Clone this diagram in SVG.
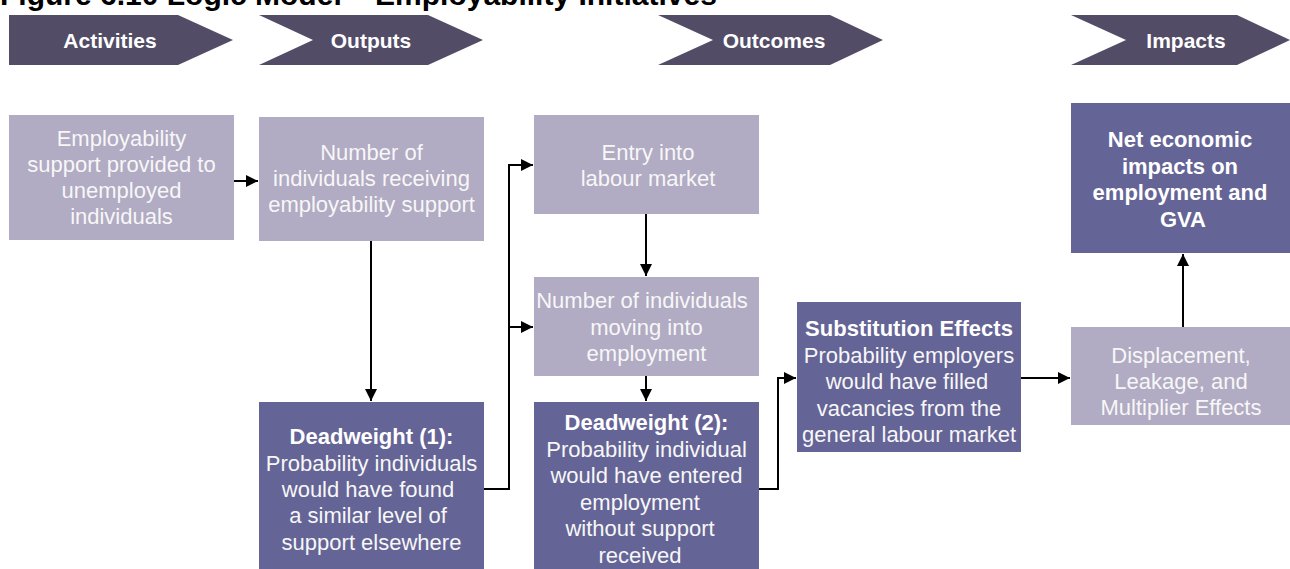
<svg xmlns="http://www.w3.org/2000/svg" width="1290" height="569" viewBox="0 0 1290 569">
<style>
.t{font-family:"Liberation Sans",Arial,sans-serif;font-size:22px;fill:#f7f7f7;text-anchor:middle}
.b{font-weight:bold;fill:#ffffff}
.hd{font-family:"Liberation Sans",Arial,sans-serif;font-size:21px;font-weight:bold;fill:#ffffff;text-anchor:middle}
.ttl{font-family:"Liberation Sans",Arial,sans-serif;font-size:30px;font-weight:bold;fill:#000000}
.chev{fill:#524c66}
.light{fill:#b1abc3}
.dark{fill:#656496}
.conn{fill:none;stroke:#000;stroke-width:2}
</style>
<defs>
<marker id="ah" markerUnits="userSpaceOnUse" markerWidth="12" markerHeight="12" viewBox="0 0 12 12" refX="12" refY="6" orient="auto">
<path d="M0,0 L12,6 L0,12 Z" fill="#000"/>
</marker>
</defs>
<rect width="1290" height="569" fill="#ffffff"/>
<text class="ttl" x="0" y="5">Figure 6.10  Logic Model – Employability Initiatives</text>

<g id="stage-activities">
<polygon class="chev" points="9,15 178,15 233,40 178,65 9,65"/>
<text class="hd" x="110" y="48">Activities</text>
</g>
<g id="stage-outputs">
<polygon class="chev" points="259,15 428,15 483,40 428,65 259,65 313,40"/>
<text class="hd" x="371" y="48">Outputs</text>
</g>
<g id="stage-outcomes">
<polygon class="chev" points="658,15 830,15 883,40 830,65 658,65 713,40"/>
<text class="hd" x="774" y="48">Outcomes</text>
</g>
<g id="stage-impacts">
<polygon class="chev" points="1071,15 1237,15 1290,40 1237,65 1071,65 1126,40"/>
<text class="hd" x="1186" y="48">Impacts</text>
</g>

<g id="n-support">
<rect class="light" x="9" y="115" width="225" height="125"/>
<text class="t" x="121.5" y="146">Employability</text>
<text class="t" x="121.5" y="172">support provided to</text>
<text class="t" x="121.5" y="198">unemployed</text>
<text class="t" x="121.5" y="224">individuals</text>
</g>
<g id="n-receiving">
<rect class="light" x="259" y="117" width="225" height="124"/>
<text class="t" x="371.5" y="160">Number of</text>
<text class="t" x="371.5" y="186">individuals receiving</text>
<text class="t" x="371.5" y="212">employability support</text>
</g>
<g id="n-entry">
<rect class="light" x="534" y="115" width="225" height="99"/>
<text class="t" x="648" y="160">Entry into</text>
<text class="t" x="648" y="186">labour market</text>
</g>
<g id="n-moving">
<rect class="light" x="534" y="277" width="225" height="99"/>
<text class="t" x="642" y="308">Number of individuals</text>
<text class="t" x="646.5" y="335">moving into</text>
<text class="t" x="646.5" y="361">employment</text>
</g>
<g id="n-deadweight1">
<rect class="dark" x="259" y="402" width="225" height="167"/>
<text class="t b" x="371.5" y="444">Deadweight (1):</text>
<text class="t" x="371.5" y="471">Probability individuals</text>
<text class="t" x="368" y="497">would have found</text>
<text class="t" x="368" y="523">a similar level of</text>
<text class="t" x="371.5" y="550">support elsewhere</text>
</g>
<g id="n-deadweight2">
<rect class="dark" x="534" y="402" width="225" height="167"/>
<text class="t b" x="646.5" y="430">Deadweight (2):</text>
<text class="t" x="646.5" y="457">Probability individual</text>
<text class="t" x="646.5" y="483">would have entered</text>
<text class="t" x="640" y="510">employment</text>
<text class="t" x="640" y="536">without support</text>
<text class="t" x="640" y="563">received</text>
</g>
<g id="n-substitution">
<rect class="dark" x="797" y="302" width="224" height="150"/>
<text class="t b" x="909" y="336">Substitution Effects</text>
<text class="t" x="909" y="363">Probability employers</text>
<text class="t" x="907" y="389">would have filled</text>
<text class="t" x="909" y="416">vacancies from the</text>
<text class="t" x="909" y="442">general labour market</text>
</g>
<g id="n-displacement">
<rect class="light" x="1071" y="327" width="219" height="98"/>
<text class="t" x="1181" y="363">Displacement,</text>
<text class="t" x="1181" y="389">Leakage, and</text>
<text class="t" x="1181" y="415">Multiplier Effects</text>
</g>
<g id="n-net">
<rect class="dark" x="1071" y="103" width="219" height="150"/>
<text class="t b" x="1180" y="147">Net economic</text>
<text class="t b" x="1180" y="174">impacts on</text>
<text class="t b" x="1180" y="200">employment and</text>
<text class="t b" x="1183" y="227">GVA</text>
</g>

<g id="connectors">
<path class="conn" d="M234,181 H258" marker-end="url(#ah)"/>
<path class="conn" d="M371,241 V401" marker-end="url(#ah)"/>
<path class="conn" d="M484,489 H509 V165 H533" marker-end="url(#ah)"/>
<path class="conn" d="M509,327 H533" marker-end="url(#ah)"/>
<path class="conn" d="M646,214 V276" marker-end="url(#ah)"/>
<path class="conn" d="M646,376 V401" marker-end="url(#ah)"/>
<path class="conn" d="M759,489 H778 V378 H796" marker-end="url(#ah)"/>
<path class="conn" d="M1021,378 H1070" marker-end="url(#ah)"/>
<path class="conn" d="M1183,327 V254" marker-end="url(#ah)"/>
</g>
</svg>
